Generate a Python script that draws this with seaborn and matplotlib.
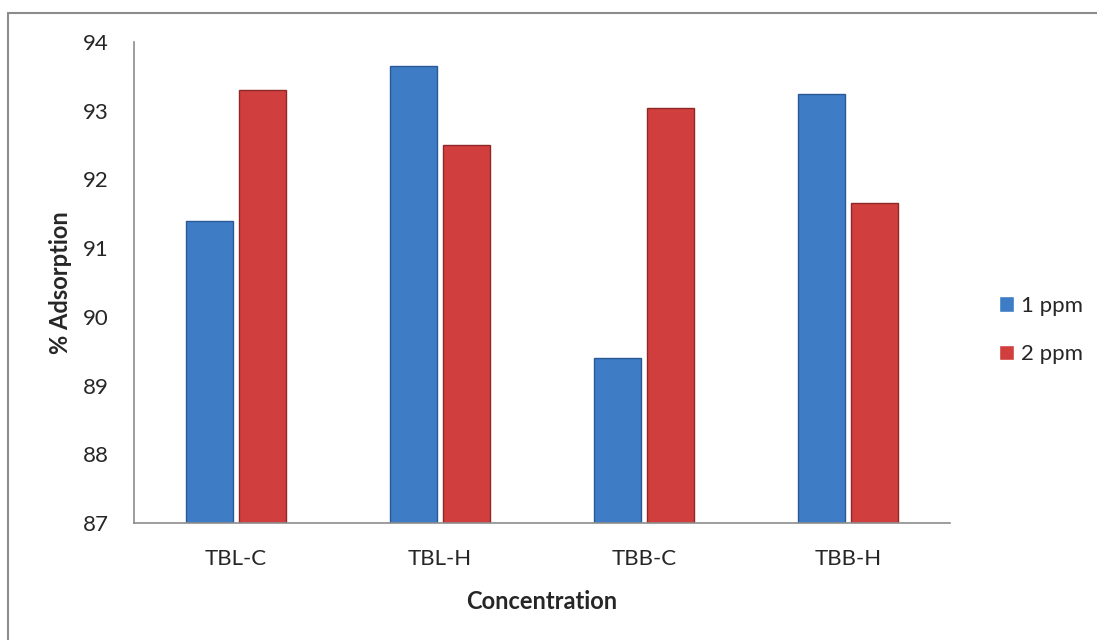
import matplotlib
matplotlib.use("Agg")
import matplotlib.pyplot as plt
import seaborn as sns
import pandas as pd
from matplotlib.lines import Line2D

categories = ["TBL-C", "TBL-H", "TBB-C", "TBB-H"]
series_names = ["1 ppm", "2 ppm"]
ppm1 = [91.40, 93.65, 89.40, 93.24]
ppm2 = [93.30, 92.50, 93.04, 91.65]
y_ticks = [87, 88, 89, 90, 91, 92, 93, 94]

df = pd.DataFrame({
    "Concentration": categories * 2,
    "Series": [series_names[0]] * 4 + [series_names[1]] * 4,
    "Value": ppm1 + ppm2,
})

sns.set_theme(style="white")
plt.rcParams["font.family"] = ["Lato", "DejaVu Sans"]

fig = plt.figure(figsize=(10.97, 6.4), dpi=100)
ax = fig.add_axes([134 / 1097, 1 - 523 / 640, (950 - 134) / 1097, (523 - 42) / 640])

palette = {"1 ppm": "#3E7CC6", "2 ppm": "#D03F3D"}
sns.barplot(data=df, x="Concentration", y="Value", hue="Series", palette=palette,
            width=0.515, gap=0.1, ax=ax, saturation=1, legend=True)

edge = {"1 ppm": "#2A5A95", "2 ppm": "#8E2826"}
for cont, name in zip(ax.containers, series_names):
    for p in cont:
        p.set_edgecolor(edge[name])
        p.set_linewidth(1.0)

ax.set_ylim(87, 94)
ax.set_yticks(y_ticks)
ax.set_yticklabels([str(t) for t in y_ticks], fontsize=16)
ax.tick_params(axis="x", labelsize=16, pad=19, length=0)
ax.tick_params(axis="y", pad=18, length=0)
ax.set_xlabel("Concentration", fontsize=17, fontweight="bold", labelpad=15)
ax.set_ylabel("% Adsorption", fontsize=17, fontweight="bold", labelpad=8)

for s in ["top", "right"]:
    ax.spines[s].set_visible(False)
for s in ["left", "bottom"]:
    ax.spines[s].set_color("#8C8C8C")
    ax.spines[s].set_linewidth(1.2)

handles, labels = ax.get_legend_handles_labels()
ax.legend(handles, labels, loc="center left", bbox_to_anchor=(990 / 1097, 1 - 330 / 640),
          bbox_transform=fig.transFigure, frameon=False, fontsize=16,
          handlelength=0.7, handleheight=0.7, handletextpad=0.3, labelspacing=1.3,
          borderaxespad=0)

# outer chart border (left and top visible)
fig.add_artist(Line2D([8 / 1097, 8 / 1097], [1 - 13 / 640, 0], transform=fig.transFigure,
                      color="#8C8C8C", linewidth=1.5))
fig.add_artist(Line2D([8 / 1097, 1], [1 - 13 / 640, 1 - 13 / 640], transform=fig.transFigure,
                      color="#8C8C8C", linewidth=1.5))

fig.savefig("out.png", dpi=100)
